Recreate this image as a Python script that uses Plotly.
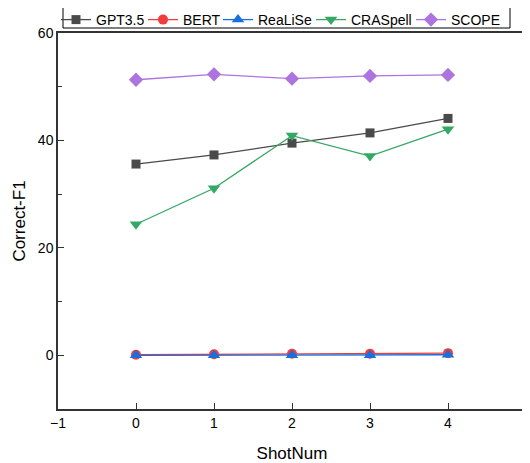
import plotly.graph_objects as go

shots = [0, 1, 2, 3, 4]
gpt35 = [35.6, 37.3, 39.5, 41.4, 44.1]
bert = [0.1, 0.2, 0.3, 0.3, 0.4]
realise = [0.0, 0.0, 0.0, 0.0, 0.1]
craspell = [24.4, 31.1, 40.9, 37.1, 42.1]
scope = [51.3, 52.3, 51.5, 52.0, 52.2]

series = [
    ("GPT3.5", gpt35, "#4a4a4a", "square", 9),
    ("BERT", bert, "#f03c3c", "circle", 10),
    ("ReaLiSe", realise, "#1a6fdc", "triangle-up", 11),
    ("CRASpell", craspell, "#35a865", "triangle-down", 11),
    ("SCOPE", scope, "#ad74e0", "diamond", 11),
]
legend_x_px = [56, 143, 218, 311, 411]

# page has an 8px body margin, so the figure is slightly smaller
W, H = 522, 455
fig = go.Figure()
legend_layout = {}
for i, (name, vals, color, sym, size) in enumerate(series):
    lname = "legend" if i == 0 else f"legend{i+1}"
    fig.add_trace(go.Scatter(
        x=shots, y=vals, name=name, mode="lines+markers",
        line=dict(color=color, width=1.3),
        marker=dict(symbol=sym, size=size, color=color),
        legend=lname,
    ))
    legend_layout[lname] = dict(
        xref="container", yref="container",
        x=(legend_x_px[i] - 8) / W, xanchor="left",
        y=1 - 12 / H, yanchor="middle",
        bgcolor="rgba(0,0,0,0)", borderwidth=0,
        font=dict(size=14), orientation="h", itemwidth=30,
    )

fig.update_layout(
    width=W, height=H,
    margin=dict(l=50, r=4, t=25, b=54, autoexpand=False),
    plot_bgcolor="white", paper_bgcolor="white",
    font=dict(family="Liberation Sans, Arial, sans-serif", size=14, color="black"),
    showlegend=True,
    **legend_layout,
)
# legend frame
fig.add_shape(type="rect", xref="paper", yref="paper",
              x0=(63 - 58) / 468, x1=(510 - 58) / 468,
              y0=(409 - 28) / 376, y1=(409 - 5) / 376,
              line=dict(color="black", width=1), fillcolor="rgba(0,0,0,0)", layer="below")

fig.update_xaxes(
    range=[-1, 5], tickvals=[-1, 0, 1, 2, 3, 4, 5],
    showline=True, linecolor="#333", linewidth=1.5, mirror=True,
    ticks="inside", ticklen=6, tickcolor="#333", showgrid=False, zeroline=False,
    title=dict(text="ShotNum", font=dict(size=17), standoff=18),
)
fig.update_yaxes(
    range=[-10, 60], tickvals=[0, 20, 40, 60],
    showline=True, linecolor="#333", linewidth=1.5, mirror=True,
    ticks="inside", ticklen=6, tickcolor="#333", showgrid=False, zeroline=False,
    minor=dict(tickvals=[10, 30, 50], ticks="inside", ticklen=4, tickcolor="#333"),
    title=dict(text="Correct-F1", font=dict(size=17), standoff=8),
)

fig.write_html("out.html")
